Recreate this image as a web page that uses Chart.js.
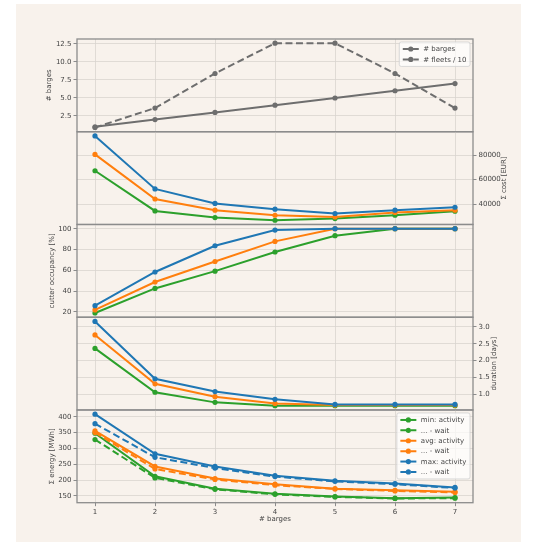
<!DOCTYPE html>
<html><head><meta charset="utf-8">
<script src="https://cdn.jsdelivr.net/npm/chart.js@4.4.1/dist/chart.umd.min.js"></script>
<style>
html,body{margin:0;padding:0;background:#ffffff;width:537px;height:546px;overflow:hidden;}
#fig{position:absolute;left:16px;top:4px;width:505px;height:538px;background:#f8f2ec;}
canvas{position:absolute;left:0;top:0;}
</style></head><body>
<div id="fig"></div>
<canvas id="c1" width="537" height="546"></canvas>
<canvas id="c2" width="537" height="546"></canvas>
<canvas id="c3" width="537" height="546"></canvas>
<canvas id="c4" width="537" height="546"></canvas>
<canvas id="c5" width="537" height="546"></canvas>
<script>
// ---------- data ----------
const barges = [1, 2, 3, 4, 5, 6, 7];
const bargesCount = [1, 2, 3, 4, 5, 6, 7];
const fleetsDiv10 = [0.9, 3.6, 8.4, 12.6, 12.6, 8.4, 3.6];

const costMin = [67200, 34500, 29100, 26900, 28300, 31000, 34300];
const costAvg = [80500, 44200, 35100, 31000, 29600, 33200, 35100];
const costMax = [95500, 52400, 40600, 35900, 32400, 35100, 37500];

const occMin = [19, 42.6, 59.2, 77.6, 93.3, 100, 100];
const occAvg = [22, 48.8, 68.5, 87.8, 100, 100, 100];
const occMax = [26, 58.4, 83.6, 98.7, 100, 100, 100];

const durMin = [2.36, 1.06, 0.76, 0.66, 0.66, 0.66, 0.66];
const durAvg = [2.76, 1.31, 0.93, 0.73, 0.68, 0.68, 0.68];
const durMax = [3.16, 1.46, 1.08, 0.85, 0.70, 0.70, 0.70];

const energyMinAct  = [348, 212, 173, 157, 148, 143, 145];
const energyMinWait = [328, 207, 171, 155, 147, 142, 143];
const energyAvgAct  = [355, 243, 205, 187, 173, 168, 163];
const energyAvgWait = [350, 235, 202, 184, 172, 166, 161];
const energyMaxAct  = [408, 283, 243, 214, 198, 189, 177];
const energyMaxWait = [378, 272, 238, 211, 196, 187, 175];

const xTicks = [1, 2, 3, 4, 5, 6, 7];
const bargesTicks = [2.5, 5, 7.5, 10, 12.5];
const costTicks = [20000, 40000, 60000, 80000, 100000];
const occTicks = [20, 40, 60, 80, 100];
const durTicks = [0.5, 1.0, 1.5, 2.0, 2.5, 3.0];
const energyTicks = [150, 200, 250, 300, 350, 400];

// ---------- style ----------
const FAMILY = "'DejaVu Sans', sans-serif";
const FONT = {family: FAMILY, size: 7};
const TXT = '#444444';
const GRID = '#d9d4cf';
const SPINE = '#8c8c8c';
const C_MIN = '#2ca02c', C_AVG = '#ff7f0e', C_MAX = '#1f77b4', C_GRAY = '#6e6e6e';
const W = 537, H = 546, X_LEFT = 77, X_RIGHT = 473;
const PANEL_TOP = 39, PANEL_H = 92.74;

function autoRange(arrs) {
  let lo = Infinity, hi = -Infinity;
  arrs.forEach(a => a.forEach(v => { lo = Math.min(lo, v); hi = Math.max(hi, v); }));
  const m = (hi - lo) * 0.05;
  return [lo - m, hi + m];
}
function pts(ys) { return barges.map((x, i) => ({x: x, y: ys[i]})); }
function ds(label, ys, color, dashed, idx, n) {
  return {label, data: pts(ys), borderColor: color, backgroundColor: color,
    borderWidth: 2, borderDash: dashed ? [7, 3.5] : [], pointRadius: 2.6,
    pointHoverRadius: 2.6, pointBorderWidth: 0, pointBackgroundColor: color,
    tension: 0, fill: false, order: n - idx};
}

const framePlugin = {
  id: 'frame',
  afterDraw(chart) {
    const a = chart.chartArea, c = chart.ctx;
    c.save();
    c.strokeStyle = SPINE; c.lineWidth = 1.3;
    c.strokeRect(a.left, a.top, a.right - a.left, a.bottom - a.top);
    c.restore();
  }
};
const rightTitlePlugin = {
  id: 'rightTitle',
  afterDraw(chart, args, opts) {
    if (!opts || !opts.text) return;
    const a = chart.chartArea, c = chart.ctx;
    c.save();
    c.translate(opts.x, (a.top + a.bottom) / 2);
    c.rotate(-Math.PI / 2);
    c.font = '7px ' + FAMILY; c.fillStyle = TXT;
    c.textAlign = 'center'; c.textBaseline = 'middle';
    c.fillText(opts.text, 0, 0);
    c.restore();
  }
};
const legendPlugin = {
  id: 'mplLegend',
  afterDraw(chart, args, opts) {
    if (!opts || !opts.show) return;
    const c = chart.ctx, a = chart.chartArea, items = chart.data.datasets;
    c.save();
    c.font = '7px ' + FAMILY;
    const tw = Math.max(...items.map(d => c.measureText(d.label).width));
    const pad = 3.5, hl = 16, gap = 4.5, rowH = 10.4;
    const bw = pad + hl + gap + tw + pad;
    const bh = 14 + (items.length - 1) * rowH;
    const bx = a.right - 3 - bw, by = a.top + 3;
    c.beginPath();
    c.roundRect(bx, by, bw, bh, 2);
    c.fillStyle = 'rgba(255,255,255,0.7)'; c.fill();
    c.strokeStyle = '#cfcfcf'; c.lineWidth = 0.8; c.stroke();
    items.forEach((d, k) => {
      const y = by + 7 + k * rowH;
      c.strokeStyle = d.borderColor; c.lineWidth = 2;
      c.setLineDash(d.borderDash || []);
      c.beginPath(); c.moveTo(bx + pad, y); c.lineTo(bx + pad + hl, y); c.stroke();
      c.setLineDash([]);
      c.beginPath(); c.arc(bx + pad + hl / 2, y, 2.6, 0, Math.PI * 2);
      c.fillStyle = d.borderColor; c.fill();
      c.fillStyle = TXT; c.textAlign = 'left'; c.textBaseline = 'middle';
      c.fillText(d.label, bx + pad + hl + gap, y + 0.5);
    });
    c.restore();
  }
};

function panel(id, i, cfg) {
  const top = PANEL_TOP + i * PANEL_H, bottom = top + PANEL_H;
  const isLast = !!cfg.showX;
  const xH = isLast ? 25 : 0;
  const left = cfg.side === 'left';
  const yW = left ? 37 : 40;
  const pad = {
    top: top, bottom: H - bottom - xH,
    left: left ? X_LEFT - yW : X_LEFT,
    right: left ? W - X_RIGHT : W - X_RIGHT - yW
  };
  const [ymin, ymax] = autoRange(cfg.series);
  new Chart(document.getElementById(id), {
    type: 'line',
    data: {datasets: cfg.datasets},
    options: {
      responsive: false, animation: false, events: [],
      layout: {padding: pad},
      plugins: {
        legend: {display: false}, tooltip: {enabled: false},
        mplLegend: {show: !!cfg.legend},
        rightTitle: {text: left ? '' : cfg.yTitle, x: cfg.rightTitleX || 0}
      },
      scales: {
        x: {
          type: 'linear', min: 0.7, max: 7.3,
          afterBuildTicks: s => { s.ticks = xTicks.map(v => ({value: v})); },
          afterFit: s => { s.height = xH; },
          grid: {color: GRID, lineWidth: 0.8, drawTicks: isLast, tickLength: 3.5, tickColor: SPINE, tickWidth: 1},
          border: {display: false},
          ticks: {display: isLast, font: FONT, color: TXT, padding: 1.5, maxRotation: 0, callback: v => String(v)},
          title: {display: isLast, text: '# barges', font: FONT, color: TXT, padding: {top: 0, bottom: 4.5}}
        },
        y: {
          type: 'linear', position: cfg.side, min: ymin, max: ymax,
          afterBuildTicks: s => { s.ticks = cfg.yTicks.filter(v => v >= ymin && v <= ymax).map(v => ({value: v})); },
          afterFit: s => { s.width = yW; },
          grid: {color: GRID, lineWidth: 0.8, drawTicks: true, tickLength: 3.5, tickColor: SPINE, tickWidth: 1},
          border: {display: false},
          ticks: {font: FONT, color: TXT, padding: 2, callback: v => cfg.fmt(v)},
          title: left ? {display: true, text: cfg.yTitle, font: FONT, color: TXT, padding: {top: cfg.tPad, bottom: 0}} : {display: false}
        }
      }
    },
    plugins: [framePlugin, legendPlugin, rightTitlePlugin]
  });
}

panel('c1', 0, {
  side: 'left', yTitle: '# barges', tPad: 4.8, yTicks: bargesTicks, fmt: v => v.toFixed(1),
  series: [bargesCount, fleetsDiv10], legend: true,
  datasets: [ds('# barges', bargesCount, C_GRAY, false, 0, 2), ds('# fleets / 10', fleetsDiv10, C_GRAY, true, 1, 2)]
});
panel('c2', 1, {
  side: 'right', yTitle: 'Σ cost [EUR]', rightTitleX: 504.5, yTicks: costTicks, fmt: v => String(Math.round(v)),
  series: [costMin, costAvg, costMax],
  datasets: [ds('min', costMin, C_MIN, false, 0, 3), ds('avg', costAvg, C_AVG, false, 1, 3), ds('max', costMax, C_MAX, false, 2, 3)]
});
panel('c3', 2, {
  side: 'left', yTitle: 'cutter occupancy [%]', tPad: 7.5, yTicks: occTicks, fmt: v => String(Math.round(v)),
  series: [occMin, occAvg, occMax],
  datasets: [ds('min', occMin, C_MIN, false, 0, 3), ds('avg', occAvg, C_AVG, false, 1, 3), ds('max', occMax, C_MAX, false, 2, 3)]
});
panel('c4', 3, {
  side: 'right', yTitle: 'duration [days]', rightTitleX: 494.5, yTicks: durTicks, fmt: v => v.toFixed(1),
  series: [durMin, durAvg, durMax],
  datasets: [ds('min', durMin, C_MIN, false, 0, 3), ds('avg', durAvg, C_AVG, false, 1, 3), ds('max', durMax, C_MAX, false, 2, 3)]
});
panel('c5', 4, {
  side: 'left', yTitle: 'Σ energy [MWh]', tPad: 7.5, yTicks: energyTicks, fmt: v => String(Math.round(v)),
  series: [energyMinAct, energyMinWait, energyAvgAct, energyAvgWait, energyMaxAct, energyMaxWait],
  showX: true, legend: true,
  datasets: [
    ds('min: activity', energyMinAct, C_MIN, false, 0, 6),
    ds('... - wait', energyMinWait, C_MIN, true, 1, 6),
    ds('avg: activity', energyAvgAct, C_AVG, false, 2, 6),
    ds('... - wait', energyAvgWait, C_AVG, true, 3, 6),
    ds('max: activity', energyMaxAct, C_MAX, false, 4, 6),
    ds('... - wait', energyMaxWait, C_MAX, true, 5, 6)
  ]
});
</script>
</body></html>
